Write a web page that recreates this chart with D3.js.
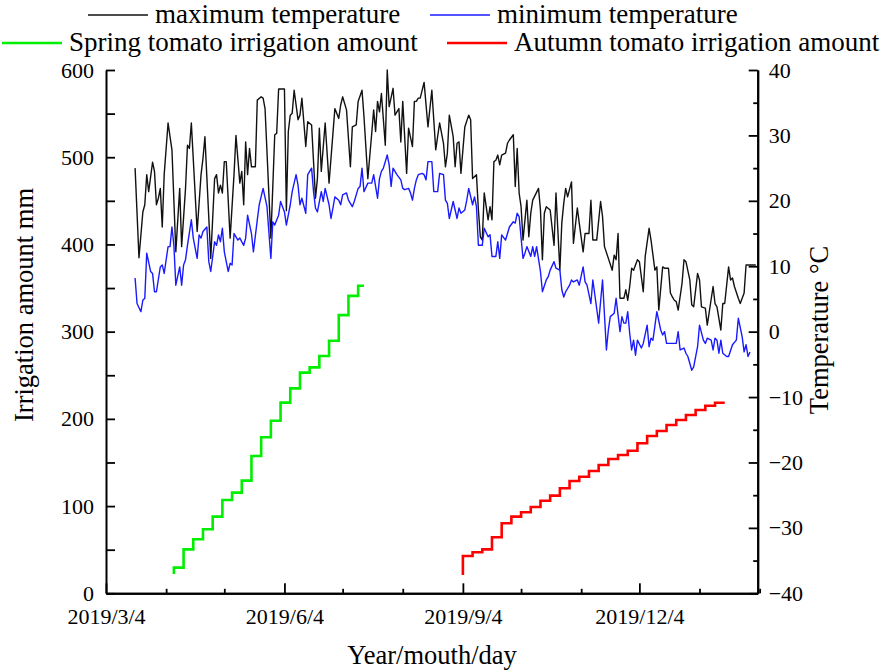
<!DOCTYPE html>
<html>
<head>
<meta charset="utf-8">
<script src="https://cdn.jsdelivr.net/npm/d3@7"></script>
<style>
  body { margin: 0; background: #fff; }
  svg text { font-family: "Liberation Serif", "Times New Roman", serif; fill: #000; }
</style>
</head>
<body>
<svg id="chart" width="886" height="672"></svg>
<script>
// x values are day offsets from 2019/3/4
const startDay = "2019-03-04";
const endDay = "2020-02-03";
const dateTicks = ["2019-03-04", "2019-06-04", "2019-09-04", "2019-12-04"];
const irrigationTicks = [0, 100, 200, 300, 400, 500, 600];
const tempTicks = [-40, -30, -20, -10, 0, 10, 20, 30, 40];
const seriesNames = ["maximum temperature", "minimum temperature",
  "Spring tomato irrigation amount", "Autumn tomato irrigation amount"];

// [day, °C]
const maxTemp = [[15,25.0],[17,11.3],[19,18.3],[20,19.4],[21,24.0],[22,21.4],[24,25.9],[25,24.5],[26,19.4],[27,20.4],[28,21.9],[29,16.0],[30,24.0],[32,31.9],[34,27.8],[36,12.2],[38,21.9],[39,13.0],[41,21.9],[42,28.5],[43,28.0],[44,31.9],[47,15.3],[49,24.0],[50,26.5],[51,29.8],[54,11.2],[56,23.4],[57,24.0],[58,21.2],[59,22.4],[60,21.2],[61,26.0],[62,26.0],[64,14.3],[66,24.0],[67,30.0],[69,22.7],[70,24.5],[71,19.4],[72,29.0],[73,24.0],[74,28.0],[75,25.2],[77,25.2],[78,35.4],[80,35.9],[81,35.7],[82,34.1],[85,14.3],[87,30.1],[88,30.3],[89,37.1],[92,37.1],[93,18.5],[94,30.6],[95,33.1],[96,33.4],[97,36.9],[99,32.4],[100,33.1],[101,35.7],[103,28.3],[104,32.1],[106,31.6],[108,20.4],[109,23.4],[110,31.1],[111,24.5],[113,31.9],[115,22.7],[118,34.1],[120,32.6],[121,34.65],[122,35.9],[124,33.9],[126,25.2],[127,31.3],[129,31.6],[130,35.2],[132,36.9],[133,32.9],[135,23.4],[137,30.3],[138,33.9],[139,30.6],[140,35.2],[141,33.6],[142,36.4],[144,28.5],[145,40.0],[146,34.4],[148,37.2],[149,33.1],[151,34.1],[152,29.0],[153,35.2],[155,24.2],[156,31.1],[158,28.3],[159,35.2],[160,35.2],[161,35.7],[162,35.7],[164,38.1],[166,31.3],[168,36.9],[170,27.8],[172,31.9],[174,28.8],[175,25.2],[176,27.3],[177,33.1],[179,29.8],[180,25.2],[181,28.8],[182,29.0],[183,24.2],[185,31.3],[187,33.1],[188,32.4],[189,23.4],[191,24.0],[192,18.6],[193,14.5],[194,14.0],[195,21.2],[197,17.1],[198,19.1],[199,17.1],[200,26.0],[201,26.2],[202,27.0],[203,25.5],[204,27.0],[206,27.3],[207,28.8],[208,29.3],[210,30.1],[211,22.2],[212,28.0],[213,21.2],[214,19.1],[215,14.0],[217,20.1],[218,14.5],[219,18.1],[220,20.1],[223,21.9],[224,18.6],[225,11.0],[226,18.1],[227,19.1],[229,18.6],[231,13.2],[232,21.2],[234,9.4],[235,16.6],[236,19.6],[237,21.9],[238,20.6],[240,22.9],[241,13.5],[243,18.9],[244,16.6],[246,12.2],[247,15.0],[249,15.0],[250,20.1],[251,14.0],[253,14.0],[255,19.9],[256,17.6],[257,13.0],[259,11.2],[261,9.4],[262,11.7],[263,11.0],[264,15.0],[265,5.1],[267,5.1],[268,6.4],[269,4.8],[270,6.9],[271,9.7],[272,9.4],[274,11.0],[275,10.7],[277,6.1],[278,11.5],[280,15.8],[281,14.0],[283,9.4],[284,9.9],[285,3.3],[287,9.9],[288,9.7],[290,9.7],[291,5.9],[292,5.3],[293,4.8],[294,4.6],[295,3.3],[297,7.4],[298,11.0],[299,10.7],[301,7.9],[302,4.1],[303,3.8],[305,8.9],[306,7.9],[307,3.8],[309,3.6],[310,1.0],[313,6.9],[314,4.3],[315,3.8],[317,0.25],[318,4.3],[319,4.3],[321,9.9],[322,7.9],[323,8.2],[324,6.9],[326,5.1],[327,4.3],[329,5.9],[330,10.2],[335,10.2]];

const minTemp = [[15,8.2],[16,4.3],[18,3.05],[19,4.8],[20,5.1],[21,12.0],[23,9.2],[24,8.9],[25,6.1],[26,6.1],[28,9.9],[29,10.2],[30,8.9],[32,13.0],[33,13.0],[34,16.0],[35,13.2],[36,7.1],[38,9.9],[39,7.1],[40,10.2],[41,11.0],[42,13.2],[44,17.1],[45,14.3],[47,11.2],[48,14.8],[49,14.3],[50,15.3],[52,16.0],[53,10.7],[54,9.2],[56,13.75],[57,13.2],[58,14.8],[59,13.75],[60,15.8],[61,12.2],[63,9.2],[64,10.45],[65,10.2],[66,15.0],[68,14.0],[69,14.3],[71,13.2],[72,14.3],[73,17.8],[75,15.0],[76,12.2],[78,17.1],[79,19.4],[81,21.9],[83,19.1],[85,11.2],[86,16.8],[87,16.3],[89,17.8],[90,19.9],[92,18.3],[93,16.3],[95,19.4],[96,21.4],[98,24.0],[99,22.4],[100,19.4],[101,20.4],[103,18.1],[104,24.0],[106,25.0],[107,21.4],[108,18.9],[109,18.3],[111,21.4],[112,19.9],[113,21.9],[115,19.4],[116,17.3],[117,18.9],[118,20.6],[120,20.1],[121,19.4],[122,20.9],[124,21.2],[125,20.1],[127,19.1],[128,19.9],[130,21.9],[131,22.2],[132,25.0],[133,21.4],[135,22.7],[137,22.7],[138,24.0],[140,20.4],[141,23.4],[142,24.5],[143,25.0],[145,27.0],[146,25.5],[147,22.2],[148,25.0],[150,24.0],[152,23.2],[153,21.9],[154,21.7],[156,21.9],[157,21.2],[158,20.1],[159,21.9],[160,23.2],[161,24.0],[163,24.2],[164,24.0],[165,23.2],[166,26.0],[168,26.0],[169,21.4],[171,21.4],[172,24.2],[174,24.0],[175,20.1],[176,19.6],[177,17.3],[179,19.9],[180,18.6],[181,17.3],[182,18.9],[183,18.1],[185,18.6],[186,20.1],[187,21.9],[189,19.4],[190,20.6],[191,19.1],[192,13.2],[194,13.2],[195,15.8],[197,14.5],[198,14.8],[199,11.5],[201,11.5],[202,13.75],[203,11.2],[204,14.8],[206,14.0],[207,15.0],[208,16.0],[210,16.8],[211,16.6],[212,18.1],[213,17.6],[215,11.2],[216,12.0],[217,13.0],[219,11.5],[220,13.0],[221,11.5],[222,13.0],[224,9.2],[225,6.1],[227,7.9],[228,8.4],[229,9.4],[231,10.7],[232,9.7],[234,9.4],[235,6.4],[236,5.3],[237,6.1],[239,7.1],[240,7.9],[241,7.6],[243,7.9],[244,7.1],[246,9.9],[247,7.6],[248,7.1],[250,4.3],[251,7.9],[254,1.3],[256,7.9],[258,-2.8],[259,0.25],[260,2.3],[262,2.8],[263,5.1],[265,0.0],[266,2.3],[267,1.3],[268,1.3],[269,3.05],[270,-0.25],[271,-2.8],[272,-1.3],[273,-3.6],[274,-1.3],[276,-2.5],[277,-1.8],[279,1.0],[280,-2.3],[281,-1.0],[282,-1.3],[284,3.05],[286,0.25],[287,-0.5],[288,0.0],[289,-1.8],[291,-1.8],[292,-1.8],[294,-1.8],[295,0.0],[296,-2.8],[298,-2.5],[299,-3.3],[300,-3.8],[302,-5.9],[303,-5.4],[305,-2.3],[306,1.0],[308,-1.3],[309,-1.8],[310,-1.0],[312,-1.3],[313,-2.8],[314,-1.0],[315,-1.3],[316,-3.3],[317,-1.3],[318,-3.3],[320,-3.8],[321,-3.8],[323,-2.0],[325,-1.3],[326,2.05],[328,-0.8],[329,-3.1],[330,-2.0],[331,-3.8],[332,-3.1]];

// [day, cumulative mm]
const springIrrigation = [[35,22],[35,29.4],[40,50.4],[45,61.9],[50,73.4],[55,87.9],[60,107],[65,115.4],[70,129.2],[75,157.4],[80,178.9],[85,197.9],[90,218.6],[95,235],[100,253],[105,259],[110,272],[115,289.6],[120,319],[125,341],[130,352.7],[133,352.7]];
const autumnIrrigation = [[184,21],[184,42.8],[189,47],[194,50.4],[199,64.2],[204,80.3],[209,87.9],[214,92.9],[219,99],[224,106.2],[229,112],[234,120.4],[239,128.8],[244,133.7],[249,140.2],[254,147.1],[259,154],[264,158.6],[269,163.5],[274,172],[279,180.4],[284,186.1],[289,193],[294,198.7],[299,204.4],[304,210.2],[309,215.1],[314,218.5],[319,218.5]];

const serif = "Liberation Serif, Times New Roman, serif";
const parseDay = d3.timeParse("%Y-%m-%d");
const t0 = parseDay(startDay);
const toDate = d => d3.timeDay.offset(t0, d);

const margin = { top: 70, right: 128.3, bottom: 78.7, left: 106 };
const width = 886, height = 672;
const svg = d3.select("#chart");

const x = d3.scaleTime()
  .domain([t0, parseDay(endDay)])
  .range([margin.left, width - margin.right]);
const yIrr = d3.scaleLinear().domain([0, 600]).range([height - margin.bottom, margin.top]);
const yTemp = d3.scaleLinear().domain([-40, 40]).range([height - margin.bottom, margin.top]);

const colors = ["#111111", "#1a1aff", "#00ee00", "#ff0000"];

// lines
const tempLine = d3.line().x(d => x(toDate(d[0]))).y(d => yTemp(d[1]));
const irrLine = d3.line().x(d => x(toDate(d[0]))).y(d => yIrr(d[1])).curve(d3.curveStepAfter);

svg.append("path").datum(springIrrigation)
  .attr("d", irrLine).attr("fill", "none").attr("stroke", colors[2]).attr("stroke-width", 2.6);
svg.append("path").datum(autumnIrrigation)
  .attr("d", irrLine).attr("fill", "none").attr("stroke", colors[3]).attr("stroke-width", 2.6);
svg.append("path").datum(maxTemp)
  .attr("d", tempLine).attr("fill", "none").attr("stroke", colors[0]).attr("stroke-width", 1.4)
  .attr("stroke-linejoin", "round");
svg.append("path").datum(minTemp)
  .attr("d", tempLine).attr("fill", "none").attr("stroke", colors[1]).attr("stroke-width", 1.4)
  .attr("stroke-linejoin", "round");

// axes
const bottomY = height - margin.bottom;
const majorDates = dateTicks.map(parseDay);
const minorDates = d3.timeMonth.range(t0, parseDay(endDay))
  .map(d => d3.timeDay.offset(d, 3))
  .filter(d => d > t0 && !majorDates.some(m => +m === +d));

function styleAxis(g) {
  g.attr("font-family", serif).attr("font-size", 22);
  g.select(".domain").attr("stroke", "#000").attr("stroke-width", 2);
  g.selectAll(".tick line").attr("stroke", "#000").attr("stroke-width", 1.8);
  g.selectAll(".tick text").attr("font-family", serif).style("font-family", serif).style("font-size", "22px");
}

svg.append("g").attr("transform", `translate(0,${bottomY})`)
  .call(d3.axisBottom(x).tickValues(minorDates).tickSize(-4.5).tickSizeOuter(0).tickFormat(""))
  .call(styleAxis);
svg.append("g").attr("transform", `translate(0,${bottomY})`)
  .call(d3.axisBottom(x).tickValues(majorDates).tickSize(-10).tickSizeOuter(0).tickPadding(15)
    .tickFormat(d3.timeFormat("%Y/%-m/%-d")))
  .call(styleAxis);

svg.append("g").attr("transform", `translate(${margin.left},0)`)
  .call(d3.axisLeft(yIrr).tickValues(d3.range(0, 601, 50)).tickSize(-9).tickSizeOuter(0).tickPadding(12)
    .tickFormat(d => irrigationTicks.includes(d) ? d : ""))
  .call(styleAxis);

const rightX = width - margin.right;
svg.append("g").attr("transform", `translate(${rightX},0)`)
  .call(d3.axisRight(yTemp).tickValues(d3.range(-35, 40, 10)).tickSize(-4.5).tickSizeOuter(0).tickFormat(""))
  .call(styleAxis);
svg.append("g").attr("transform", `translate(${rightX},0)`)
  .call(d3.axisRight(yTemp).tickValues(tempTicks).tickSize(-9).tickSizeOuter(0).tickPadding(11))
  .call(styleAxis);

// axis titles
svg.append("text")
  .attr("transform", "translate(33,305) rotate(-90)")
  .attr("text-anchor", "middle").style("font-size", "26.5px")
  .text("Irrigation amount mm");
svg.append("text")
  .attr("transform", "translate(828,330) rotate(-90)")
  .attr("text-anchor", "middle").style("font-size", "26.5px")
  .text("Temperature °C");
svg.append("text")
  .attr("x", 432).attr("y", 664)
  .attr("text-anchor", "middle").style("font-size", "26.5px")
  .text("Year/mouth/day");

// legend
const legendPos = [[88, 15], [430, 15], [2, 43], [447, 43]];
const legend = svg.selectAll("g.legend")
  .data(seriesNames)
  .enter()
  .append("g")
  .attr("class", "legend")
  .attr("transform", (d, i) => `translate(${legendPos[i][0]},${legendPos[i][1]})`);

legend.append("line")
  .attr("x1", 0).attr("x2", 60).attr("y1", 0).attr("y2", 0)
  .attr("stroke", (d, i) => colors[i])
  .attr("stroke-width", (d, i) => i < 2 ? 1.6 : 2.6);

legend.append("text")
  .attr("x", 67).attr("y", 8)
  .style("font-size", "27px")
  .text(d => d);
</script>
</body>
</html>
